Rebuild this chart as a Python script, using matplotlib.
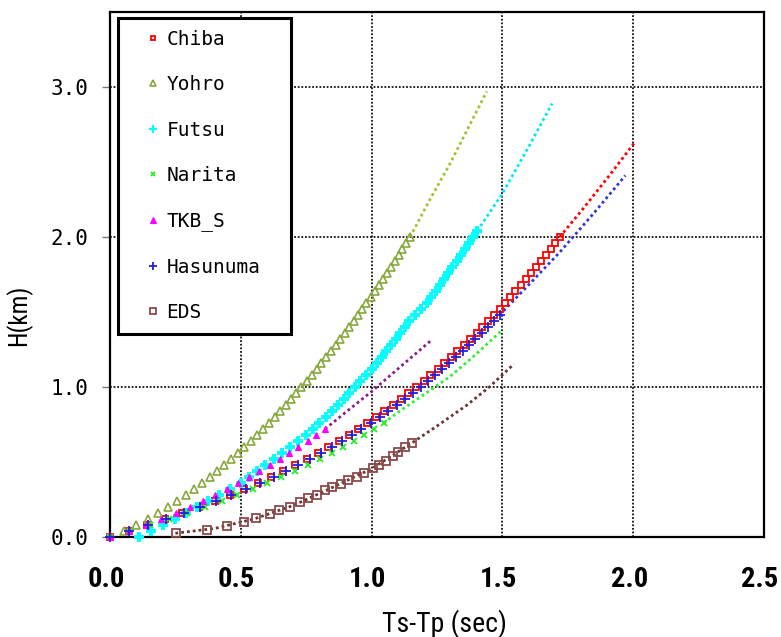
import matplotlib
matplotlib.use('Agg')
import matplotlib.pyplot as plt
from matplotlib.lines import Line2D
from matplotlib import font_manager
import matplotlib.transforms as mtransforms

_names = {f.name for f in font_manager.fontManager.ttflist}
def pick(cands):
    for c in cands:
        if c in _names:
            return c
    return 'DejaVu Sans'
NARROW = pick(['Liberation Sans Narrow', 'DejaVu Sans Condensed', 'Roboto Condensed', 'Liberation Sans'])
MONO = pick(['DejaVu Sans Mono', 'Liberation Mono'])

# ---------------- data ----------------
DEPTH = [0.00, 0.04, 0.08, 0.12, 0.16, 0.20, 0.24, 0.28, 0.32, 0.36, 0.40, 0.44, 0.48,
         0.52, 0.56, 0.60, 0.64, 0.68, 0.72, 0.76, 0.80, 0.84, 0.88, 0.92, 0.96, 1.00,
         1.04, 1.08, 1.12, 1.16, 1.20, 1.24, 1.28, 1.32, 1.36, 1.40, 1.44, 1.48, 1.52,
         1.56, 1.60, 1.64, 1.68, 1.72, 1.76, 1.80, 1.84, 1.88, 1.92, 1.96, 2.00, 2.04]

CHIBA_T = [0.000, 0.072, 0.143, 0.211, 0.277, 0.340, 0.401, 0.458, 0.513, 0.565, 0.615,
           0.663, 0.709, 0.752, 0.795, 0.835, 0.874, 0.912, 0.947, 0.982, 1.016, 1.048,
           1.080, 1.111, 1.140, 1.170, 1.199, 1.225, 1.252, 1.278, 1.304, 1.328, 1.353,
           1.377, 1.401, 1.423, 1.445, 1.467, 1.489, 1.510, 1.530, 1.550, 1.571, 1.591,
           1.610, 1.629, 1.647, 1.666, 1.684, 1.702, 1.719]
CHIBA_START = 0
CHIBA_FIT_T = [1.719, 1.80, 1.90, 2.01]
CHIBA_FIT_H = [2.00, 2.17, 2.39, 2.64]

YOHRO_T = [0.053, 0.101, 0.144, 0.184, 0.222, 0.257, 0.290, 0.322, 0.353, 0.382, 0.410,
           0.437, 0.464, 0.489, 0.514, 0.538, 0.562, 0.585, 0.607, 0.629, 0.650, 0.671,
           0.692, 0.712, 0.732, 0.752, 0.771, 0.790, 0.808, 0.826, 0.844, 0.862, 0.880,
           0.897, 0.914, 0.931, 0.947, 0.964, 0.980, 0.996, 1.012, 1.028, 1.043, 1.058,
           1.074, 1.089, 1.103, 1.118, 1.133, 1.147]
YOHRO_START = 1
YOHRO_FIT_T = [1.147, 1.223, 1.300, 1.370, 1.440]
YOHRO_FIT_H = [2.00, 2.25, 2.49, 2.73, 2.97]

FUTSU_T = [0.110, 0.157, 0.203, 0.250, 0.292, 0.333, 0.375, 0.417, 0.458, 0.500, 0.531,
           0.562, 0.594, 0.625, 0.656, 0.687, 0.719, 0.750, 0.775, 0.800, 0.825, 0.850,
           0.871, 0.893, 0.914, 0.936, 0.957, 0.979, 1.000, 1.019, 1.038, 1.056, 1.075,
           1.093, 1.110, 1.126, 1.143, 1.165, 1.190, 1.210, 1.228, 1.246, 1.262, 1.278,
           1.293, 1.309, 1.325, 1.341, 1.357, 1.372, 1.388, 1.404]
FUTSU_START = 0
FUTSU_FIT_T = [1.404, 1.45, 1.50, 1.60, 1.69]
FUTSU_FIT_H = [2.04, 2.16, 2.29, 2.60, 2.89]

NARITA_T = [0.000, 0.077, 0.152, 0.225, 0.295, 0.362, 0.427, 0.487, 0.546, 0.602, 0.655,
            0.706, 0.755, 0.801, 0.847, 0.889, 0.931, 0.971, 1.008, 1.046]
NARITA_START = 0
NARITA_FIT_T = [1.046, 1.10, 1.20, 1.30, 1.40, 1.50]
NARITA_FIT_H = [0.76, 0.83, 0.95, 1.07, 1.22, 1.38]

TKBS_T = [0.000, 0.072, 0.137, 0.196, 0.252, 0.304, 0.354, 0.401, 0.446, 0.489, 0.531,
          0.571, 0.610, 0.648, 0.685, 0.720, 0.755, 0.789, 0.822]
TKBS_START = 0
TKBS_FIT_T = [0.822, 0.90, 1.00, 1.10, 1.227]
TKBS_FIT_H = [0.72, 0.83, 0.97, 1.12, 1.31]

HASU_T = [0.000, 0.073, 0.145, 0.215, 0.281, 0.345, 0.407, 0.464, 0.521, 0.573, 0.625,
          0.673, 0.720, 0.764, 0.807, 0.847, 0.887, 0.925, 0.961, 0.997, 1.031, 1.064,
          1.096, 1.128, 1.157, 1.187, 1.217, 1.244, 1.271, 1.297, 1.324, 1.348, 1.373,
          1.397, 1.422, 1.444, 1.467, 1.489]
HASU_START = 0
HASU_FIT_T = [1.489, 1.60, 1.72, 1.85, 1.97]
HASU_FIT_H = [1.48, 1.68, 1.90, 2.16, 2.41]

EDS_T = [0.252, 0.370, 0.447, 0.512, 0.560, 0.610, 0.647, 0.688, 0.727, 0.758, 0.790, 0.820,
         0.850, 0.883, 0.910, 0.943, 0.970, 1.005, 1.030, 1.055, 1.080, 1.100, 1.128, 1.154]
EDS_H = [0.027, 0.047, 0.073, 0.100, 0.128, 0.153, 0.180, 0.200, 0.233, 0.260, 0.280, 0.313,
         0.333, 0.353, 0.380, 0.400, 0.427, 0.460, 0.480, 0.507, 0.540, 0.567, 0.600, 0.627]
EDS_FIT_T = [0.25, 0.40, 0.55, 0.70, 0.85, 1.00, 1.154, 1.25, 1.365, 1.45, 1.544]
EDS_FIT_H = [0.025, 0.057, 0.120, 0.210, 0.330, 0.455, 0.627, 0.740, 0.880, 1.000, 1.153]

LABELS = ['Chiba', 'Yohro', 'Futsu', 'Narita', 'TKB_S', 'Hasunuma', 'EDS']
XTICKS = [0.0, 0.5, 1.0, 1.5, 2.0, 2.5]
XTICK_LABELS = ['0.0', '0.5', '1.0', '1.5', '2.0', '2.5']
YTICKS = [0.0, 1.0, 2.0, 3.0]
YTICK_LABELS = ['0.0', '1.0', '2.0', '3.0']

def depth(start, tvals):
    return DEPTH[start:start + len(tvals)]

# ---------------- styles ----------------
series = [
    dict(t=CHIBA_T, h=depth(CHIBA_START, CHIBA_T), ft=CHIBA_FIT_T, fh=CHIBA_FIT_H,
         fc='#ff0000', m='s', ms=4.8, mfc='none', mec='#ff0000', mew=1.3, lgms=3.2),
    dict(t=YOHRO_T, h=depth(YOHRO_START, YOHRO_T), ft=YOHRO_FIT_T, fh=YOHRO_FIT_H,
         fc='#9ec431', m='^', ms=6.0, mfc='none', mec='#86a83a', mew=1.2, lgms=4.2),
    dict(t=FUTSU_T, h=depth(FUTSU_START, FUTSU_T), ft=FUTSU_FIT_T, fh=FUTSU_FIT_H,
         fc='#00e8f4', m='+', ms=6.8, mfc='none', mec='#00ffff', mew=2.8, lgms=5.5),
    dict(t=NARITA_T, h=depth(NARITA_START, NARITA_T), ft=NARITA_FIT_T, fh=NARITA_FIT_H,
         fc='#33ee33', m='x', ms=4.2, mfc='none', mec='#22ee22', mew=1.3, lgms=3.2),
    dict(t=TKBS_T, h=depth(TKBS_START, TKBS_T), ft=TKBS_FIT_T, fh=TKBS_FIT_H,
         fc='#8a1e8a', m='^', ms=4.8, mfc='#ff00ff', mec='#ff00ff', mew=0.8, lgms=4.0),
    dict(t=HASU_T, h=depth(HASU_START, HASU_T), ft=HASU_FIT_T, fh=HASU_FIT_H,
         fc='#3535d0', m='+', ms=6.8, mfc='none', mec='#2020e0', mew=1.3, lgms=6.0),
    dict(t=EDS_T, h=EDS_H, ft=EDS_FIT_T, fh=EDS_FIT_H,
         fc='#6e3434', m='s', ms=5.8, mfc='none', mec='#8b4a4a', mew=1.3, lgms=4.6),
]

fig = plt.figure(figsize=(7.81, 6.37), dpi=100)
ax = fig.add_axes([0.14085, 0.15699, 0.83738, 0.82417])

ax.set_xlim(0, 2.5)
ax.set_ylim(0, 3.5)

ax.grid(True, color='#111111', linestyle=(0, (1, 1)), linewidth=1.3, zorder=0)
ax.set_axisbelow(True)

for s in series:
    ax.plot(s['ft'], s['fh'], color=s['fc'], linewidth=2.0, linestyle=(0, (1, 1.1)),
            zorder=2)
for s in series:
    ax.plot(s['t'], s['h'], linestyle='none', marker=s['m'], markersize=s['ms'],
            markerfacecolor=s['mfc'], markeredgecolor=s['mec'], markeredgewidth=s['mew'],
            zorder=3, clip_on=False)

for sp in ax.spines.values():
    sp.set_linewidth(1.6)
    sp.set_color('black')

ax.set_xticks(XTICKS)
ax.set_xticklabels(XTICK_LABELS, fontfamily=NARROW, fontweight='bold', fontsize=20.5)
ax.set_yticks(YTICKS)
ax.set_yticklabels(YTICK_LABELS, fontfamily=MONO, fontsize=15)
ax.tick_params(axis='x', length=0, pad=21)
ax.tick_params(axis='y', length=5.8, width=1.0, color='#777777', pad=10)

shift = mtransforms.ScaledTranslation(-4 / 100, 0, fig.dpi_scale_trans)
for lab in ax.get_xticklabels():
    lab.set_transform(lab.get_transform() + shift)

ax.set_xlabel('Ts-Tp (sec)', fontfamily=NARROW, fontsize=20)
ax.xaxis.set_label_coords(0.511, -0.138)
ax.set_ylabel('H(km)', fontfamily=NARROW, fontsize=18)
ax.yaxis.set_label_coords(-0.119, 0.423)

handles = [Line2D([], [], linestyle='none', marker=s['m'], markersize=s['lgms'],
                  markerfacecolor=s['mfc'], markeredgecolor=s['mec'],
                  markeredgewidth=min(s['mew'], 1.6)) for s in series]
leg = ax.legend(handles, LABELS, loc='upper left',
                bbox_to_anchor=(0.0122, 0.9886 - 0.602, 0.2645, 0.602),
                mode='expand', borderaxespad=0, frameon=True, fancybox=False,
                edgecolor='black', framealpha=1, numpoints=1,
                prop={'family': MONO, 'size': 14},
                handlelength=2.4, handletextpad=-0.5, labelspacing=1.36, borderpad=0.6)
leg.get_frame().set_linewidth(2.2)
leg.set_zorder(5)

fig.savefig('out.png', dpi=100)
